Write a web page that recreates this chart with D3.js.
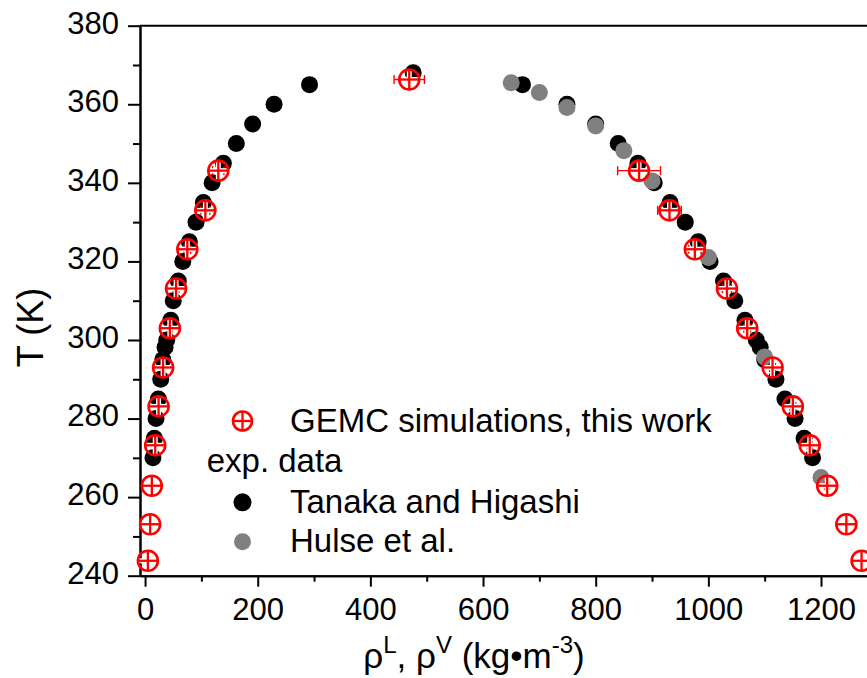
<!DOCTYPE html>
<html>
<head>
<meta charset="utf-8">
<script src="https://cdn.jsdelivr.net/npm/d3@7"></script>
<style>
  body { margin: 0; background: #fff; }
  svg { display: block; font-family: "Liberation Sans", Arial, sans-serif; }
</style>
</head>
<body>
<div id="chart"></div>
<script>
// GEMC simulations (this work): T (K), liquid / vapour density (kg/m3), error on density
const gemcT    = [243.8, 253.1, 262.9, 273.2, 283.1, 293.0, 303.0, 313.1, 323.1, 333.0, 343.1];
const gemcRhoV = [5, 9, 12, 18, 24, 32, 44, 55, 75, 107, 130];
const gemcRhoL = [1272, 1245, 1211, 1180, 1150, 1114, 1069, 1033, 976, 931, 877];
const gemcErrL = [3, 3, 4, 4, 5, 5, 6, 8, 11, 21, 38];
const gemcErrV = [1, 1, 1, 2, 2, 3, 4, 5, 6, 8, 10];
const gemcCritT = [366.3];
const gemcCritRho = [469];
const gemcCritErr = [27];

// Tanaka and Higashi
const tanakaT    = [270, 275, 280, 285, 290, 295, 298.15, 300, 305, 310, 315, 320, 325, 330, 335, 340, 345, 350, 355, 360, 365];
const tanakaRhoV = [14, 16.5, 19.5, 23.6, 27.8, 31.5, 35.5, 38.5, 45.6, 50, 59, 67, 78.7, 90.5, 103.5, 119, 139, 162, 191, 229, 292];
const tanakaRhoL = [1185, 1170, 1154, 1136, 1120, 1100, 1092, 1085, 1065, 1047, 1027, 1003, 982, 959, 932, 904, 875, 840, 800, 749, 670];
const tanakaCritT = [368.0];
const tanakaCritRho = [476];

// Hulse et al.
const hulseRho = [650, 700, 749, 800, 850, 900, 1000, 1100, 1200];
const hulseT   = [365.5, 363, 359.2, 354.5, 348.2, 340.5, 321, 295.7, 265];

const xMajor = [0, 200, 400, 600, 800, 1000, 1200];
const xMinor = [100, 300, 500, 700, 900, 1100];
const yMajor = [240, 260, 280, 300, 320, 340, 360, 380];
const yMinor = [250, 270, 290, 310, 330, 350, 370];

const legendItems = ["GEMC simulations, this work", "exp. data", "Tanaka and Higashi", "Hulse et al."];

const w = 867, h = 678;
const svg = d3.select('#chart').append('svg')
  .attr('width', w).attr('height', h);

const xScale = d3.scaleLinear().domain([-9, 1290]).range([140, 871.7]);
const yScale = d3.scaleLinear().domain([240, 380]).range([575.7, 25.7]);

const red = '#ff0000';
const gray = '#808080';

// build point lists
let tanaka = tanakaT.map((t, i) => ({ t: t, rho: tanakaRhoL[i] }))
  .concat(tanakaT.map((t, i) => ({ t: t, rho: tanakaRhoV[i] })))
  .concat(tanakaCritT.map((t, i) => ({ t: t, rho: tanakaCritRho[i] })));
let hulse = hulseT.map((t, i) => ({ t: t, rho: hulseRho[i] }));
let gemc = gemcT.map((t, i) => ({ t: t, rho: gemcRhoL[i], err: gemcErrL[i] }))
  .concat(gemcT.map((t, i) => ({ t: t, rho: gemcRhoV[i], err: gemcErrV[i] })))
  .concat(gemcCritT.map((t, i) => ({ t: t, rho: gemcCritRho[i], err: gemcCritErr[i] })));

// axes
const xAxis = d3.axisBottom(xScale).tickValues(xMajor).tickFormat(d3.format('d'))
  .tickSize(11).tickPadding(11.3).tickSizeOuter(0);
const xAxisMinor = d3.axisBottom(xScale).tickValues(xMinor).tickSize(6).tickFormat('').tickSizeOuter(0);
const yAxis = d3.axisLeft(yScale).tickValues(yMajor).tickFormat(d3.format('d'))
  .tickSize(12).tickPadding(9).tickSizeOuter(0);
const yAxisMinor = d3.axisLeft(yScale).tickValues(yMinor).tickSize(7).tickFormat('').tickSizeOuter(0);

function styleAxis(g) {
  g.selectAll('path, line').attr('stroke', '#000').attr('stroke-width', 2);
  g.selectAll('text').attr('font-size', 31).attr('fill', '#000')
    .attr('font-family', '"Liberation Sans", Arial, sans-serif');
}

svg.append('g').attr('transform', 'translate(0,575.7)').call(xAxisMinor).call(styleAxis);
svg.append('g').attr('transform', 'translate(0,575.7)').call(xAxis).call(styleAxis);
svg.append('g').attr('transform', 'translate(140,0)').call(yAxisMinor).call(styleAxis);
const gy = svg.append('g').attr('transform', 'translate(140,0)').call(yAxis).call(styleAxis);
gy.selectAll('text').attr('dy', '7.3px');

// top spine
svg.append('line')
  .attr('x1', 140).attr('x2', 871.7)
  .attr('y1', yScale(380)).attr('y2', yScale(380))
  .attr('stroke', '#000').attr('stroke-width', 2);

// axis titles
svg.append('text')
  .attr('transform', 'translate(43,327.5) rotate(-90)')
  .attr('text-anchor', 'middle')
  .attr('font-size', 36)
  .text('T (K)');

const xt = svg.append('text')
  .attr('x', 474).attr('y', 668)
  .attr('text-anchor', 'middle')
  .attr('font-size', 35);
xt.append('tspan').text('\u03c1');
xt.append('tspan').attr('font-size', 24).attr('dy', -15).text('L');
xt.append('tspan').attr('dy', 15).text(', \u03c1');
xt.append('tspan').attr('font-size', 24).attr('dy', -15).text('V');
xt.append('tspan').attr('dy', 15).text(' (kg\u2022m');
xt.append('tspan').attr('font-size', 24).attr('dy', -15).text('-3');
xt.append('tspan').attr('dy', 15).text(')');

// markers
function drawGemc(g, cx, cy, r) {
  g.append('line').attr('x1', cx - r).attr('x2', cx + r).attr('y1', cy).attr('y2', cy)
    .attr('stroke', '#fff').attr('stroke-width', 5);
  g.append('line').attr('x1', cx).attr('x2', cx).attr('y1', cy - r).attr('y2', cy + r)
    .attr('stroke', '#fff').attr('stroke-width', 5);
  g.append('line').attr('x1', cx - r).attr('x2', cx + r).attr('y1', cy).attr('y2', cy)
    .attr('stroke', red).attr('stroke-width', 2.3);
  g.append('line').attr('x1', cx).attr('x2', cx).attr('y1', cy - r).attr('y2', cy + r)
    .attr('stroke', red).attr('stroke-width', 2.3);
  g.append('circle').attr('cx', cx).attr('cy', cy).attr('r', r)
    .attr('fill', 'none').attr('stroke', red).attr('stroke-width', 2.6);
}

svg.append('g').selectAll('circle')
  .data(tanaka).enter().append('circle')
  .attr('cx', d => xScale(d.rho))
  .attr('cy', d => yScale(d.t))
  .attr('r', 8.5)
  .attr('fill', '#000');

svg.append('g').selectAll('circle')
  .data(hulse).enter().append('circle')
  .attr('cx', d => xScale(d.rho))
  .attr('cy', d => yScale(d.t))
  .attr('r', 8.5)
  .attr('fill', gray);

// error bars
const eb = svg.append('g').attr('stroke', red).attr('stroke-width', 1.4);
gemc.forEach(d => {
  const y = yScale(d.t), x1 = xScale(d.rho - d.err), x2 = xScale(d.rho + d.err);
  eb.append('line').attr('x1', x1).attr('x2', x2).attr('y1', y).attr('y2', y);
  eb.append('line').attr('x1', x1).attr('x2', x1).attr('y1', y - 4.5).attr('y2', y + 4.5);
  eb.append('line').attr('x1', x2).attr('x2', x2).attr('y1', y - 4.5).attr('y2', y + 4.5);
});

const gm = svg.append('g');
gemc.forEach(d => drawGemc(gm, xScale(d.rho), yScale(d.t), 10));

// legend
const lg = svg.append('g').attr('font-size', 33);
drawGemc(lg, 242.5, 421, 9.5);
lg.append('text').attr('x', 290).attr('y', 431.7).text(legendItems[0]);
lg.append('text').attr('x', 206.7).attr('y', 471.7).text(legendItems[1]);
lg.append('circle').attr('cx', 242.5).attr('cy', 502.3).attr('r', 9).attr('fill', '#000');
lg.append('text').attr('x', 290).attr('y', 513.3).text(legendItems[2]);
lg.append('circle').attr('cx', 242.5).attr('cy', 541.7).attr('r', 8.5).attr('fill', gray);
lg.append('text').attr('x', 290).attr('y', 551.7).text(legendItems[3]);
</script>
</body>
</html>
